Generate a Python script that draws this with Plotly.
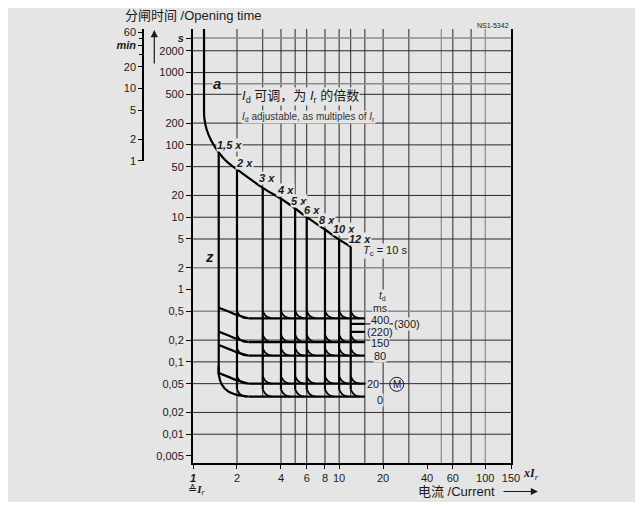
import math
import plotly.graph_objects as go

# tripping curve "a": multiples of I_r vs opening time in seconds
curve_x = [1.19, 1.19, 1.195, 1.24, 1.34, 1.5, 1.7, 2, 3, 4, 5, 6, 8, 10, 12]
curve_t = [4000, 400, 237, 163, 112, 78.5, 59, 45.7, 25.5, 18, 13.2, 10, 6.76, 4.9, 3.9]

multiples = [1.5, 2, 3, 4, 5, 6, 8, 10, 12]
multiple_labels = ["1,5 x", "2 x", "3 x", "4 x", "5 x", "6 x", "8 x", "10 x", "12 x"]

# short-time delay levels (t_d in ms) and where they sit on the time axis
delay_ms = ["400", "150", "80", "20", "0"]
delay_t = [0.40, 0.187, 0.122, 0.050, 0.033]
extra_ms = ["(300)", "(220)"]
extra_t = [0.335, 0.26]
level_end = 15
bar_end = 23.4

# shoulder from the 1,5 x line into each delay level (factor of level)
shoulder_x = [1.5, 1.75, 2.0, 2.4]
shoulder_f = [1.4, 1.24, 1.11, 1.0]
# rounded corner into the 0 ms level
corner_x = [1.5, 1.5, 1.57, 1.74, 2.0, 2.4]
corner_t = [0.09, 0.067, 0.049, 0.039, 0.035, 0.033]
# small hook where each multiple meets a level
hook_xf = [1.0, 1.037, 1.094, 1.152]
hook_f = [1.26, 1.11, 1.03, 1.0]

grid_x_dark = [2, 4, 5, 6, 8, 10, 15, 20, 30, 60, 80]
grid_x_upper = [3, 12]
grid_x_light = [50, 100]
grid_t_dark = [2000, 1000, 500, 200, 100, 50, 20, 10, 5, 0.2, 0.1, 0.05, 0.02, 0.01]
grid_t_light = [3000, 700, 2, 0.5]

y_ticks = [3000, 2000, 1000, 500, 200, 100, 50, 20, 10, 5, 2, 1,
           0.5, 0.2, 0.1, 0.05, 0.02, 0.01, 0.005]
y_text = ["<b><i>s</i></b>", "2000", "1000", "500", "200", "100", "50", "20", "10", "5", "2", "1",
          "0,5", "0,2", "0,1", "0,05", "0,02", "0,01", "0,005"]
x_ticks = [1, 2, 4, 6, 8, 10, 20, 40, 60, 100, 150]
x_text = ["<b><i>1</i></b>", "2", "4", "6", "8", "10", "20", "40", "60", "100", "150"]
min_ticks = [60, 40, 20, 10, 5, 2, 1]
min_text = ["60", "<b><i>min</i></b>", "20", "10", "5", "2", "1"]
min_minor = [50, 30]

T_LO, T_HI = 0.004, 4000
X_LO, X_HI = 1, 150
BG = "#e5e5e5"
INK = "#1a1a1a"
FONT = "Liberation Sans, Noto Sans CJK SC"

fig = go.Figure()


def add_lines(xs, ts, width=2.2, color="black", shape="linear"):
    fig.add_trace(go.Scatter(x=xs, y=ts, mode="lines", hoverinfo="skip", showlegend=False,
                             line=dict(color=color, width=width, shape=shape, smoothing=0.8)))


def segs(pairs):
    xs, ts = [], []
    for px_, pt_ in pairs:
        xs += list(px_) + [None]
        ts += list(pt_) + [None]
    return xs, ts


# grid
add_lines(*segs([([x, x], [T_LO, T_HI]) for x in grid_x_dark]), width=1, color="#2a2a2a")
add_lines(*segs([([x, x], [delay_t[-1], T_HI]) for x in grid_x_upper]), width=1, color="#2a2a2a")
add_lines(*segs([([x, x], [T_LO, T_HI]) for x in grid_x_light]), width=1.2, color="#8c8c8c")
add_lines(*segs([([X_LO, X_HI], [t, t]) for t in grid_t_dark]), width=1, color="#2a2a2a")
add_lines(*segs([([X_LO, X_HI], [t, t]) for t in grid_t_light]), width=1.4, color="#8c8c8c")

# main curve
add_lines(curve_x, curve_t, shape="spline")

# drops from the curve at each I_d multiple
trip = {x: t for x, t in zip(curve_x, curve_t)}
drops = [([multiples[0], multiples[0]], [trip[multiples[0]], corner_t[1]])]
drops += [([k, k], [trip[k], delay_t[-1] * hook_f[0]]) for k in multiples[1:]]
add_lines(*segs(drops))

# delay levels
add_lines(*segs([([shoulder_x[-1], level_end], [t, t]) for t in delay_t]))
add_lines(*segs([([multiples[-1], level_end], [t, t]) for t in extra_t]))
add_lines([level_end, bar_end], [extra_t[0], extra_t[0]], width=1)
add_lines(*segs([(shoulder_x, [t * f for f in shoulder_f]) for t in delay_t[:-1]]), shape="spline")
add_lines(corner_x, corner_t, shape="spline")
hooks = [([k * f for f in hook_xf], [t * f for f in hook_f]) for k in multiples[1:] for t in delay_t]
add_lines(*segs(hooks), width=1.8, shape="spline")

# dummy trace so the minute axis is drawn
fig.add_trace(go.Scatter(x=[2], y=[600], yaxis="y2", mode="markers",
                         marker=dict(opacity=0), hoverinfo="skip", showlegend=False))

# layout geometry; the page body adds an 8px offset, so the figure is 8px smaller
OFF = 8
W, H = 643 - OFF, 506 - OFF
ML, MR, MT, MB = 100 - OFF, 132, 29 - OFF, 43
PW, PH = W - ML - MR, H - MT - MB


def px(p):
    return (p - OFF - ML) / PW


def py(p):
    return (H - MB - (p - OFF)) / PH


anns = []


def ann(text, x, y, size=11, xanchor="center", bg=True, **kw):
    d = dict(text=text, x=px(x), y=py(y), xref="paper", yref="paper", showarrow=False,
             xanchor=xanchor, yanchor="middle", font=dict(size=size, color=INK, family=FONT),
             borderpad=0)
    if bg:
        d["bgcolor"] = BG
    d.update(kw)
    anns.append(d)


ann("分闸时间 /Opening time", 124, 15, size=13, xanchor="left", bg=False)
ann("NS1-5342", 510, 25, size=7, xanchor="right", bg=False)
ann("<b><i>a</i></b>", 216.7, 83.5, size=15)
ann("<b><i>z</i></b>", 209.3, 256.7, size=15, bg=False)
ann("<i>I</i><sub>d</sub> 可调，为 <i>I</i><sub>r</sub> 的倍数", 241, 96.7, size=13, xanchor="left")
ann("<i>I</i><sub>d</sub> adjustable, as multiples of <i>I</i><sub>r</sub>", 241, 116.7, size=10,
    xanchor="left", font=dict(size=10, color="#333333", family="Liberation Sans Narrow, Liberation Sans"))

label_px = [(229, 145), (244, 163.3), (266.7, 178.3), (285, 190), (299, 201),
            (312.3, 210), (326.7, 220), (344.3, 229), (360, 239.3)]
for lab, (lx, ly) in zip(multiple_labels, label_px):
    ann("<b><i>%s</i></b>" % lab, lx, ly, size=11)
ann("<i>T</i><sub>c</sub> = 10 s", 362, 251, size=11, xanchor="left")

ann("<i>t</i><sub>d</sub>", 382.7, 296, size=10)
ann("ms", 380, 307.5, size=10.5)
delay_px = [(380, 319.5), (380, 342.7), (380, 356), (373, 384.3), (380, 400)]
for lab, (lx, ly) in zip(delay_ms, delay_px):
    ann(lab, lx, ly, size=11)
ann(extra_ms[0], 407, 324.3, size=11)
ann(extra_ms[1], 380, 332.3, size=11)
ann("M", 396.7, 384.5, size=10, bg=False)

ann("<b><i>x</i></b><b><i>I</i></b><sub><i>r</i></sub>", 522, 474, xanchor="left",
    bg=False, font=dict(size=12, family="Liberation Serif", color=INK))
ann("≙<b><i>I</i></b><sub><i>r</i></sub>", 197, 490, bg=False,
    font=dict(size=11, family="Liberation Serif, DejaVu Sans", color=INK))
ann("电流 /Current", 417, 491.5, size=13, xanchor="left", bg=False)

# arrows
anns.append(dict(text="", x=px(538), y=py(491.5), xref="paper", yref="paper", showarrow=True,
                 ax=-36, ay=0, arrowhead=2, arrowsize=1.2, arrowwidth=1.2, arrowcolor=INK))
anns.append(dict(text="", x=px(154.3), y=py(30), xref="paper", yref="paper", showarrow=True,
                 ax=0, ay=35, arrowhead=2, arrowsize=1.2, arrowwidth=1.2, arrowcolor=INK))

shapes = [
    dict(type="rect", xref="paper", yref="paper", x0=px(6), x1=px(637), y0=py(502), y1=py(3),
         fillcolor=BG, line=dict(width=0), layer="below"),
    dict(type="circle", xref="paper", yref="paper", xsizemode="pixel", ysizemode="pixel",
         xanchor=px(396.7), yanchor=py(384.3), x0=-7, x1=7, y0=-7, y1=7,
         line=dict(color=INK, width=1)),
]

fig.update_layout(
    width=W, height=H,
    margin=dict(l=ML, r=MR, t=MT, b=MB),
    paper_bgcolor="white", plot_bgcolor="rgba(0,0,0,0)",
    font=dict(family=FONT, size=11, color=INK),
    showlegend=False,
    annotations=anns, shapes=shapes,
    xaxis=dict(type="log", range=[math.log10(X_LO), math.log10(X_HI)],
               domain=[px(193), 1], showgrid=False, zeroline=False,
               showline=True, linewidth=2, linecolor="black", mirror=False,
               ticks="outside", ticklen=4, tickcolor="black",
               tickvals=x_ticks, ticktext=x_text, tickfont=dict(size=11)),
    yaxis=dict(type="log", range=[math.log10(T_LO), math.log10(T_HI)],
               showgrid=False, zeroline=False,
               showline=True, linewidth=2, linecolor="black", mirror=True,
               ticks="outside", ticklen=5, tickcolor="black",
               tickvals=y_ticks, ticktext=y_text, tickfont=dict(size=11)),
    yaxis2=dict(type="log", anchor="free", position=px(143), side="left",
                domain=[(math.log10(60) - math.log10(T_LO)) / (math.log10(T_HI) - math.log10(T_LO)), 1],
                range=[math.log10(60), math.log10(T_HI)],
                showgrid=False, zeroline=False,
                showline=True, linewidth=1.5, linecolor="black",
                ticks="outside", ticklen=4, tickcolor="black",
                tickvals=[m * 60 for m in min_ticks], ticktext=min_text, tickfont=dict(size=11),
                minor=dict(tickvals=[m * 60 for m in min_minor], ticks="outside",
                           ticklen=3, tickcolor="black")),
)

fig.write_html("out.html")
